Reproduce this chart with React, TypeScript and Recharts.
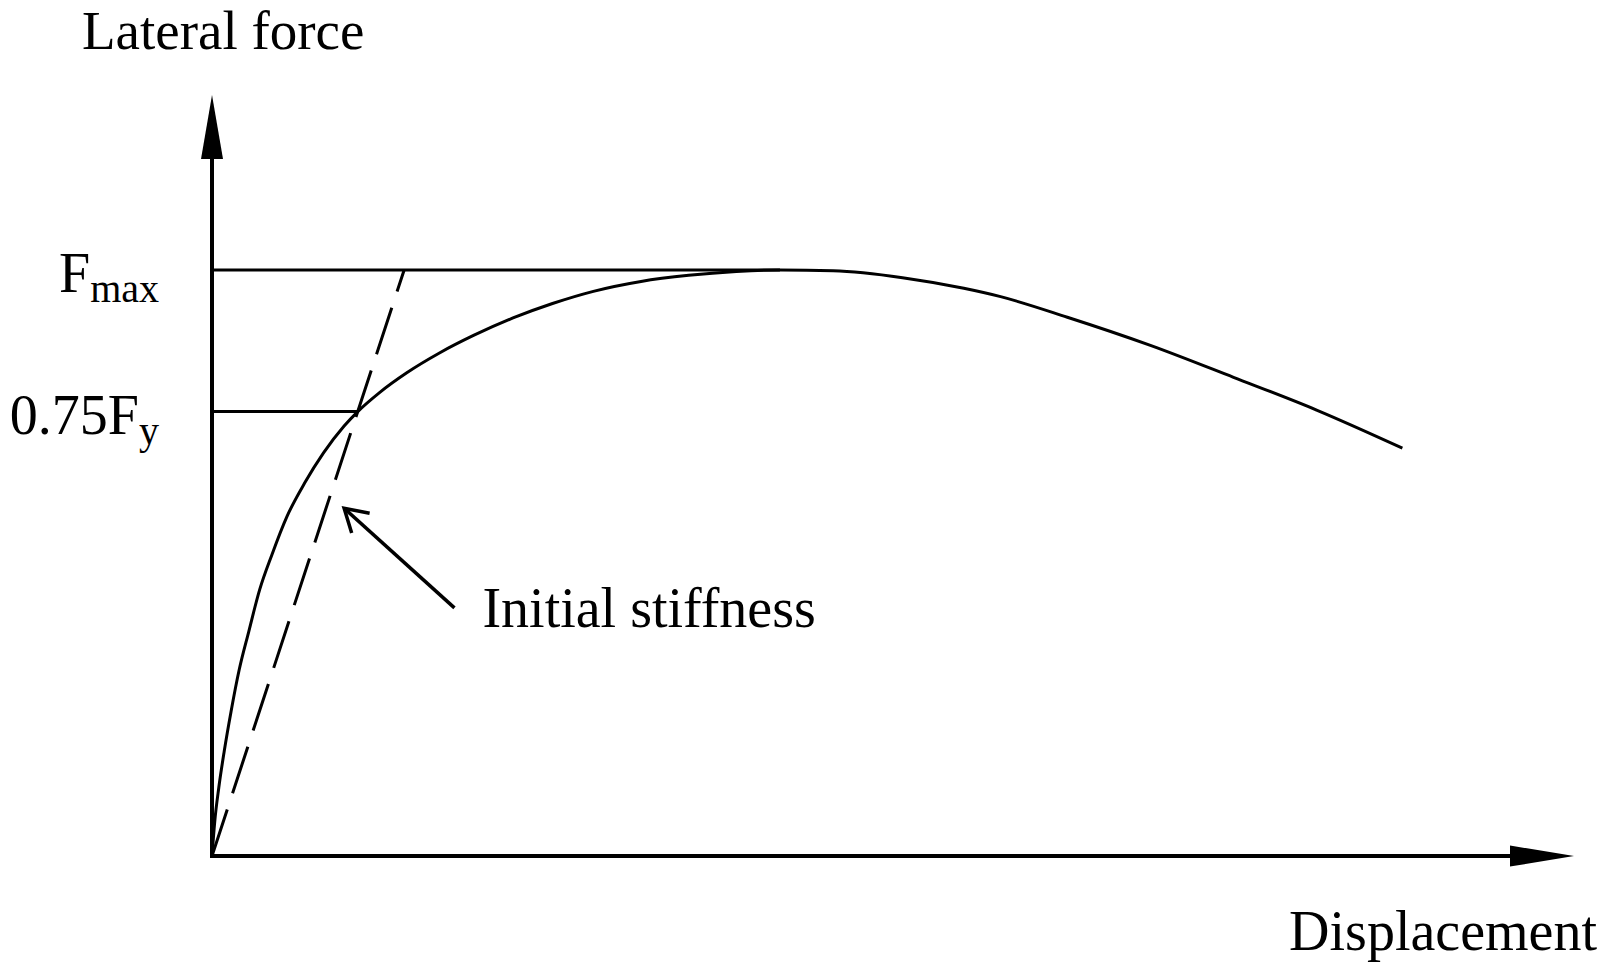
import { LineChart, Line, XAxis, YAxis, ReferenceLine } from "recharts";

// curve (displacement, lateral force), arbitrary units 0-100
const dispValues = [
    0, 0.2, 0.5, 0.9, 1.4, 2.0, 2.7, 3.5, 4.4, 5.5, 6.8, 8.2, 9.7, 10.7, 12.3,
    14.3, 16.7, 19.2, 22.1, 25.0, 28.0, 31.5, 35.0, 38.5, 41.7, 45.6, 50.7,
    55.2, 57.9, 62.8, 68.9, 75.0, 81.1, 87.4,
];
const forceValues = [
    0, 4.5, 9.0, 13.8, 19.0, 24.5, 29.5, 35.0, 39.6, 44.6, 49.0, 53.0, 56.5, 58.4, 60.9,
    63.5, 66.1, 68.4, 70.7, 72.6, 74.2, 75.5, 76.3, 76.8, 77.0, 76.9, 76.0,
    74.6, 73.5, 70.8, 67.1, 62.9, 58.6, 53.6,
];

const fMax = 77.0;
const fy75 = 58.4;
const fy75Disp = 10.7;
const arrowTail = { x: 17.8, y: 32.6 };
const arrowTip = { x: 9.7, y: 45.7 };

const axisLabels = { y: "Lateral force", x: "Displacement" };
const annotation = "Initial stiffness";

const curve = dispValues.map((x, i) => ({ x, y: forceValues[i] }));
const peak = curve.reduce((a, b) => (b.y > a.y ? b : a));
// secant through origin and the 0.75Fy point, extended up to Fmax
const stiffnessEnd = (fy75Disp * fMax) / fy75;

const FONT = '"Liberation Serif", "Times New Roman", serif';

const YAxisArrow = (p: any) => (
    <g>
        <line x1={p.x1} y1={p.y1} x2={p.x2} y2={p.y2 + 20} stroke="#000" strokeWidth={4} />
        <polygon
            points={`${p.x2},${p.y2} ${p.x2 - 11},${p.y2 + 64} ${p.x2 + 11},${p.y2 + 64}`}
            fill="#000"
        />
        <text x={p.x2 - 130} y={p.y2 - 46} fontFamily={FONT} fontSize={55} fill="#000">
            {axisLabels.y}
        </text>
    </g>
);

const XAxisArrow = (p: any) => (
    <g>
        <line x1={p.x1 - 2} y1={p.y1} x2={p.x2 - 20} y2={p.y2} stroke="#000" strokeWidth={4} />
        <polygon
            points={`${p.x2},${p.y2} ${p.x2 - 64},${p.y2 - 10.5} ${p.x2 - 64},${p.y2 + 10.5}`}
            fill="#000"
        />
        <text
            x={p.x2 + 23}
            y={p.y2 + 94}
            textAnchor="end"
            fontFamily={FONT}
            fontSize={56}
            fill="#000"
        >
            {axisLabels.x}
        </text>
    </g>
);

const levelLine = (main: string, sub: string) => (p: any) => (
    <g>
        <line x1={p.x1} y1={p.y1} x2={p.x2} y2={p.y2} stroke="#000" strokeWidth={3} />
        <text x={p.x1 - 53} y={p.y1 + 22} textAnchor="end" fontFamily={FONT} fontSize={56} fill="#000">
            <tspan>{main}</tspan>
            <tspan dy={10} fontSize={40}>
                {sub}
            </tspan>
        </text>
    </g>
);

const PointerArrow = (p: any) => {
    const ang = Math.atan2(p.y1 - p.y2, p.x1 - p.x2);
    const len = 26;
    const spread = (31 * Math.PI) / 180;
    const a1 = { x: p.x2 + len * Math.cos(ang - spread), y: p.y2 + len * Math.sin(ang - spread) };
    const a2 = { x: p.x2 + len * Math.cos(ang + spread), y: p.y2 + len * Math.sin(ang + spread) };
    return (
        <g>
            <line x1={p.x1} y1={p.y1} x2={p.x2} y2={p.y2} stroke="#000" strokeWidth={3.5} />
            <polyline
                points={`${a1.x},${a1.y} ${p.x2},${p.y2} ${a2.x},${a2.y}`}
                fill="none"
                stroke="#000"
                strokeWidth={3.5}
            />
            <text x={p.x1 + 28} y={p.y1 + 19} fontFamily={FONT} fontSize={56} fill="#000">
                {annotation}
            </text>
        </g>
    );
};

export default function App() {
    return (
        <div style={{ position: "absolute", left: 0, top: 0, background: "#fff" }}>
            <LineChart
                width={1610}
                height={977}
                data={curve}
                margin={{ top: 95, left: 212, right: 36, bottom: 121 }}
            >
                <XAxis type="number" dataKey="x" domain={[0, 100]} hide />
                <YAxis type="number" domain={[0, 100]} hide />

                <ReferenceLine
                    segment={[{ x: 0, y: fMax }, { x: peak.x, y: fMax }]}
                    ifOverflow="visible"
                    shape={levelLine("F", "max")}
                />
                <ReferenceLine
                    segment={[{ x: 0, y: fy75 }, { x: fy75Disp, y: fy75 }]}
                    ifOverflow="visible"
                    shape={levelLine("0.75F", "y")}
                />
                <ReferenceLine
                    segment={[{ x: 0, y: 0 }, { x: stiffnessEnd, y: fMax }]}
                    ifOverflow="visible"
                    stroke="#000"
                    strokeWidth={3}
                    strokeDasharray="49 17"
                />
                <ReferenceLine
                    segment={[arrowTail, arrowTip]}
                    ifOverflow="visible"
                    shape={PointerArrow}
                />

                <Line
                    type="monotone"
                    dataKey="y"
                    stroke="#000"
                    strokeWidth={3}
                    dot={false}
                    activeDot={false}
                    isAnimationActive={false}
                />

                <ReferenceLine
                    segment={[{ x: 0, y: 0 }, { x: 0, y: 100 }]}
                    ifOverflow="visible"
                    shape={YAxisArrow}
                />
                <ReferenceLine
                    segment={[{ x: 0, y: 0 }, { x: 100, y: 0 }]}
                    ifOverflow="visible"
                    shape={XAxisArrow}
                />
            </LineChart>
        </div>
    );
}
